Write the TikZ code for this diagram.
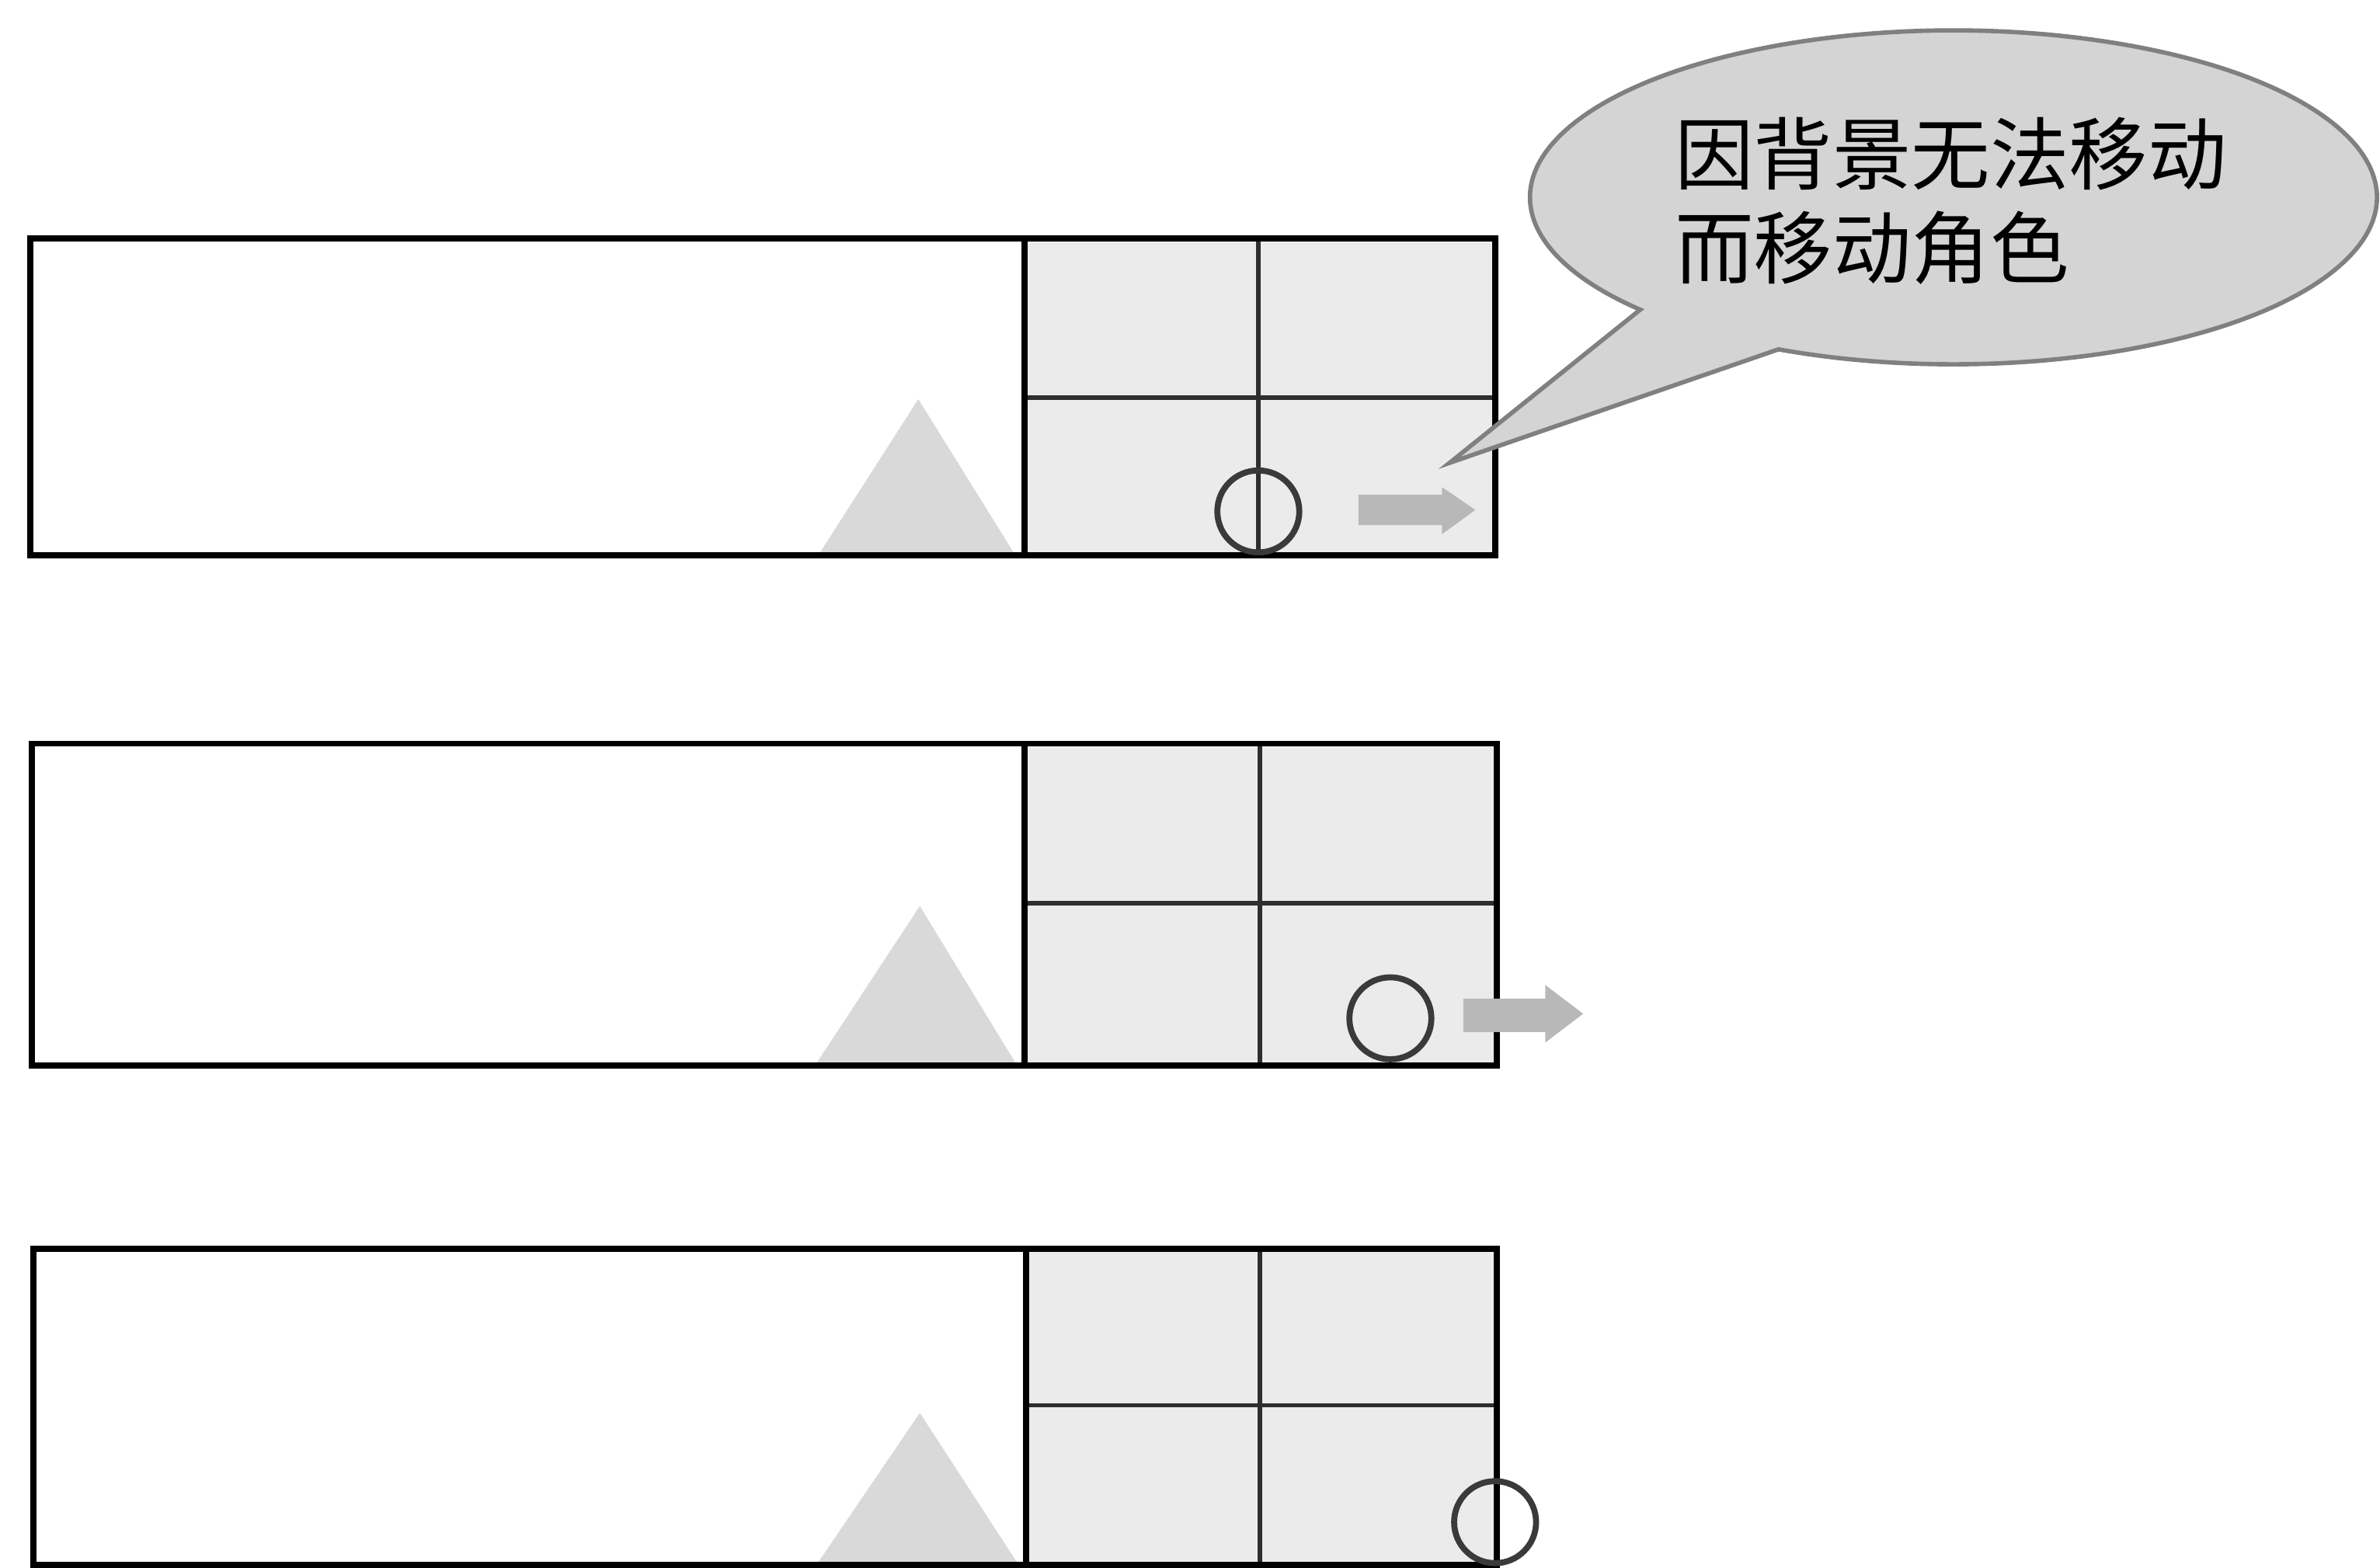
\documentclass[tikz,border=0pt]{standalone}
\usepackage{fontspec}
\newfontfamily\cjk{Noto Sans CJK SC}
\definecolor{gridfill}{HTML}{EBEBEB}
\definecolor{trifill}{HTML}{D9D9D9}
\definecolor{bubblefill}{HTML}{D4D4D4}
\definecolor{bubbleline}{HTML}{808080}
\definecolor{arrowfill}{HTML}{B8B8B8}
\definecolor{circleline}{HTML}{3A3A3A}
\definecolor{innerline}{HTML}{2E2E2E}
\tikzset{
  outerbox/.style={draw=black, line width=2.2pt},
  gridbg/.style={fill=gridfill},
  innergrid/.style={draw=innerline, line width=1.6pt},
  hill/.style={fill=trifill},
  hero/.style={draw=circleline, line width=2.2pt},
  movearrow/.style={fill=arrowfill},
  bubble/.style={fill=bubblefill, draw=bubbleline, line width=1.6pt},
  bubbletext/.style={inner sep=0pt, anchor=base west, font=\cjk\fontsize{28.9pt}{34pt}\selectfont}
}
\begin{document}
\begin{tikzpicture}[x=0.1954mm, y=-0.1954mm]
\useasboundingbox (0,0) rectangle (1568,1033);
% ---------- panel 1 ----------
\fill[gridbg] (675,157) rectangle (985,366);
\fill[hill] (539,366) -- (605,263) -- (669,366) -- cycle;
\draw[innergrid] (675,262) -- (985,262);
\draw[innergrid] (829,157) -- (829,366);
\draw[outerbox] (20,157) rectangle (985,366);
\draw[outerbox] (675,157) -- (675,366);
\draw[hero] (829,337) circle (27);
\fill[movearrow] (895,326) -- (950,326) -- (950,321) -- (972,336) -- (950,352) -- (950,346) -- (895,346) -- cycle;
% ---------- panel 2 ----------
\fill[gridbg] (675,490) rectangle (986,702);
\fill[hill] (537,702) -- (606,597) -- (670,702) -- cycle;
\draw[innergrid] (675,595) -- (986,595);
\draw[innergrid] (830,490) -- (830,702);
\draw[outerbox] (21,490) rectangle (986,702);
\draw[outerbox] (675,490) -- (675,702);
\draw[hero] (916,671) circle (27);
\fill[movearrow] (964,658) -- (1018,658) -- (1018,649) -- (1043,668) -- (1018,687) -- (1018,680) -- (964,680) -- cycle;
% ---------- panel 3 ----------
\fill[gridbg] (676,823) rectangle (986,1031);
\fill[hill] (538,1031) -- (606,931) -- (671,1031) -- cycle;
\draw[innergrid] (676,926) -- (986,926);
\draw[innergrid] (830,823) -- (830,1031);
\draw[outerbox] (22,823) rectangle (986,1031);
\draw[outerbox] (676,823) -- (676,1031);
\draw[hero] (985,1003) circle (27);
% ---------- speech bubble ----------
\coordinate (tip) at (955,305);
\filldraw[bubble] (1171.7,230.2) arc[start angle=114.4, end angle=-222.3, x radius=279, y radius=110] -- (tip) -- cycle;
\node[bubbletext] (line1) at (1103,121) {因背景无法移动};
\node[bubbletext] (line2) at (1103,183) {而移动角色};
\end{tikzpicture}
\end{document}
